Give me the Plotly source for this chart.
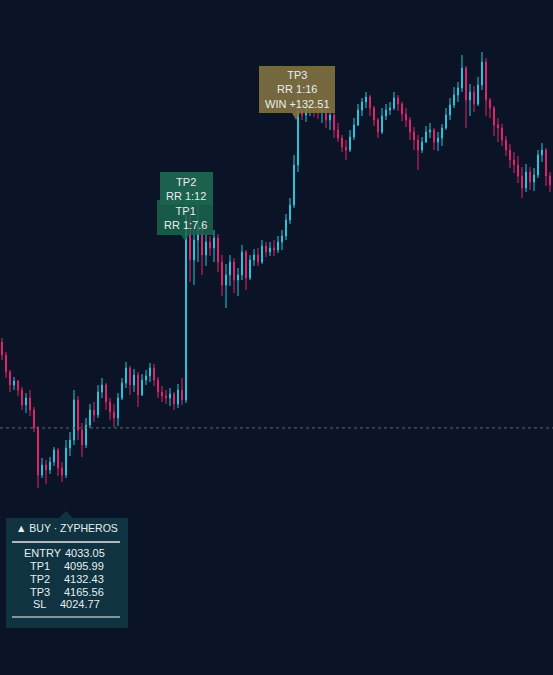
import plotly.graph_objects as go

# ---------------- data ----------------
opens = [4076, 4069.5, 4061, 4054.5, 4056.5, 4052, 4044.5, 4048, 4042, 4033,
         4009.5, 4014.5, 4012, 4016, 4022, 4013, 4009.5, 4023, 4027, 4047,
         4032, 4024.5, 4034.5, 4042, 4039.5, 4051, 4054.5, 4046, 4041, 4038,
         4048, 4055.5, 4063, 4054.5, 4059.5, 4049.5, 4057, 4059, 4063, 4057,
         4051, 4049, 4048, 4050, 4045, 4052, 4047, 4139.5, 4117, 4127,
         4134.5, 4119.5, 4126, 4123, 4128, 4116, 4104.5, 4109.5, 4116, 4107,
         4109.5, 4121, 4108, 4117, 4119.5, 4116, 4124, 4121, 4123, 4122,
         4126, 4129, 4137, 4144.5, 4164.5, 4192, 4189.5, 4193, 4195, 4192,
         4191, 4193, 4187, 4189.5, 4182, 4178, 4173.5, 4172, 4178.5, 4184.5,
         4192, 4196, 4198.5, 4193, 4187, 4181, 4189, 4192, 4193, 4198,
         4195, 4190, 4187, 4181, 4177, 4172, 4176, 4181, 4182, 4176,
         4178, 4183, 4189.5, 4194.5, 4199.5, 4203, 4213, 4197, 4201, 4195,
         4204.5, 4216, 4197, 4193, 4184.5, 4183, 4177, 4172, 4167, 4164.5,
         4159, 4153, 4161, 4156, 4159.5, 4169.5, 4172, 4159]
highs = [4078, 4071, 4062, 4058.5, 4057, 4053.5, 4050.5, 4052, 4043.5, 4034,
         4018, 4017, 4018.5, 4023.5, 4023, 4016, 4027, 4031, 4052, 4049,
         4035.5, 4038, 4045, 4046, 4054.5, 4058, 4055.5, 4048, 4045, 4050.5,
         4058, 4066, 4064, 4062.5, 4061, 4060, 4062, 4065.5, 4065, 4058.5,
         4054, 4052, 4053, 4051, 4055, 4058, 4148, 4144.5, 4133, 4146,
         4136, 4130.5, 4129, 4132, 4130, 4119.5, 4115, 4119.5, 4118, 4113,
         4124.5, 4122, 4119.5, 4122.5, 4123, 4127, 4126, 4126, 4127, 4129,
         4132, 4140, 4148, 4169.5, 4206, 4195.5, 4196, 4198, 4197, 4195,
         4195.5, 4194, 4192, 4190.5, 4185.5, 4179.5, 4177, 4182, 4188, 4195,
         4198, 4201, 4199.5, 4194, 4188, 4193, 4195, 4196, 4201, 4199.5,
         4196, 4193, 4188.5, 4183.5, 4179.5, 4178.5, 4184, 4185.5, 4183, 4181,
         4185, 4193, 4198, 4203.5, 4206, 4219.5, 4214, 4205, 4204, 4208.5,
         4221, 4218, 4198, 4194, 4188, 4185, 4179, 4175, 4171, 4169,
         4163.5, 4165, 4163.5, 4163, 4172, 4175.5, 4173, 4161]
lows = [4067, 4058, 4051, 4052, 4049, 4042, 4040.5, 4039, 4031, 4003,
        4008, 4005, 4010, 4014, 4009, 4006, 4008, 4019, 4024.5, 4027,
        4018.5, 4023, 4033, 4036, 4038, 4048, 4042, 4037, 4033.5, 4034,
        4047, 4053, 4049.5, 4051, 4043.5, 4049, 4054.5, 4056, 4054, 4048,
        4046, 4045, 4044, 4042, 4043, 4044.5, 4045.5, 4106, 4104.5, 4116,
        4109.5, 4114, 4119, 4116, 4111, 4099, 4093, 4104, 4100.5, 4099,
        4107, 4102, 4107, 4114, 4114, 4115, 4118.5, 4119, 4119, 4120.5,
        4122, 4127, 4135, 4143, 4161, 4187, 4186, 4189, 4188.5, 4187.5,
        4185.5, 4183, 4182, 4178, 4176, 4171, 4167, 4171, 4177, 4184,
        4189, 4193, 4189, 4184, 4178, 4180, 4187, 4189.5, 4192, 4191.5,
        4186.5, 4183.5, 4177, 4172, 4162, 4170.5, 4175.5, 4178, 4172, 4171.5,
        4174, 4182, 4187, 4193, 4196, 4201, 4183, 4189, 4191, 4194,
        4202, 4189, 4188, 4179, 4176, 4174, 4169, 4163, 4160.5, 4155.5,
        4148, 4151, 4152, 4151.5, 4158, 4166, 4154, 4151]
closes = [4069.5, 4061, 4054.5, 4056.5, 4052, 4044.5, 4048, 4042, 4033, 4009.5,
          4014.5, 4012, 4016, 4022, 4013, 4009.5, 4023, 4027, 4047, 4032,
          4024.5, 4034.5, 4042, 4039.5, 4051, 4054.5, 4046, 4041, 4038, 4048,
          4055.5, 4063, 4054.5, 4059.5, 4049.5, 4057, 4059, 4063, 4057, 4051,
          4049, 4048, 4050, 4045, 4052, 4047, 4139.5, 4117, 4127, 4134.5,
          4119.5, 4126, 4123, 4128, 4116, 4104.5, 4109.5, 4116, 4107, 4109.5,
          4121, 4108, 4117, 4119.5, 4116, 4124, 4121, 4123, 4122, 4126,
          4129, 4137, 4144.5, 4164.5, 4192, 4189.5, 4193, 4195, 4192, 4191,
          4193, 4187, 4189.5, 4182, 4178, 4173.5, 4172, 4178.5, 4184.5, 4192,
          4196, 4198.5, 4193, 4187, 4181, 4189, 4192, 4193, 4198, 4195,
          4190, 4187, 4181, 4177, 4172, 4176, 4181, 4182, 4176, 4178,
          4183, 4189.5, 4194.5, 4199.5, 4203, 4213, 4197, 4201, 4195, 4204.5,
          4216, 4197, 4193, 4184.5, 4183, 4177, 4172, 4167, 4164.5, 4159,
          4153, 4161, 4156, 4159.5, 4169.5, 4172, 4159, 4154.5]

entry_price = 4033.05
level_names = ["ENTRY", "TP1", "TP2", "TP3", "SL"]
level_values = ["4033.05", "4095.99", "4132.43", "4165.56", "4024.77"]
tp_labels = ["TP1<br>RR 1:7.6", "TP2<br>RR 1:12", "TP3<br>RR 1:16<br>WIN +132.51"]
header = "▲ BUY · ZYPHEROS"

x = list(range(len(closes)))

BG = "#0b1427"
UP = "#26c6da"
DOWN = "#e0246c"
FONT = "Liberation Sans"
TXT = "#e8eef0"

fig = go.Figure()
fig.add_trace(go.Candlestick(
    x=x, open=opens, high=highs, low=lows, close=closes,
    increasing=dict(line=dict(color=UP, width=1), fillcolor=UP),
    decreasing=dict(line=dict(color=DOWN, width=1), fillcolor=DOWN),
    whiskerwidth=0, hoverinfo="skip",
))

W, H = 553, 675


def dx(px):
    return (px - 2) / 4.0


def dy(py):
    return 4247 - py / 2.0


def px_(p):
    return p / W


def py_(p):
    return 1 - p / H


shapes = []
shapes.append(dict(type="line", xref="paper", x0=0, x1=1, yref="y",
                   y0=entry_price, y1=entry_price,
                   line=dict(color="#5d6b6a", width=1, dash="dot")))


def tp_box(x0, x1, y0, y1, tail_x, tail_y, color):
    shapes.append(dict(type="rect", xref="x", yref="y",
                       x0=dx(x0), x1=dx(x1), y0=dy(y0), y1=dy(y1),
                       fillcolor=color, line=dict(width=0), layer="above"))
    path = "M {a},{b} L {c},{b} L {d},{e} Z".format(
        a=dx(tail_x - 4), c=dx(tail_x + 4), b=dy(y1), d=dx(tail_x), e=dy(tail_y))
    shapes.append(dict(type="path", xref="x", yref="y", path=path,
                       fillcolor=color, line=dict(width=0), layer="above"))


tp_box(160, 213, 172, 205, 186, 205, "rgba(30,110,85,0.85)")
tp_box(157, 213, 200, 235, 185, 241, "rgba(27,100,78,0.85)")
tp_box(259, 335, 66, 113, 296, 120, "rgba(128,112,64,0.92)")

shapes.append(dict(type="rect", xref="paper", yref="paper",
                   x0=px_(6), x1=px_(128), y0=py_(628), y1=py_(518),
                   fillcolor="#0f3340", line=dict(width=0)))
shapes.append(dict(type="path", xref="paper", yref="paper",
                   path="M {},{} L {},{} L {},{} Z".format(
                       px_(59), py_(518), px_(73), py_(518), px_(66), py_(511)),
                   fillcolor="#0f3340", line=dict(width=0)))
shapes.append(dict(type="line", xref="paper", yref="paper",
                   x0=px_(12), x1=px_(120), y0=py_(542), y1=py_(542),
                   line=dict(color="#e3eaec", width=1.5)))
shapes.append(dict(type="line", xref="paper", yref="paper",
                   x0=px_(12), x1=px_(120), y0=py_(617), y1=py_(617),
                   line=dict(color="#7d979c", width=2)))

annotations = []
fnt = dict(family=FONT, size=11, color=TXT)
annotations.append(dict(x=dx(186), y=dy(188.5), xref="x", yref="y", text=tp_labels[1],
                        showarrow=False, font=fnt, xanchor="center", yanchor="middle"))
annotations.append(dict(x=dx(185), y=dy(217.5), xref="x", yref="y", text=tp_labels[0],
                        showarrow=False, font=fnt, xanchor="center", yanchor="middle"))
annotations.append(dict(x=dx(297), y=dy(89), xref="x", yref="y", text=tp_labels[2],
                        showarrow=False, font=fnt, xanchor="center", yanchor="middle"))

annotations.append(dict(x=px_(67), y=py_(528), xref="paper", yref="paper", text=header,
                        showarrow=False, font=dict(family=FONT, size=10.5, color=TXT),
                        xanchor="center", yanchor="middle"))
row_y = [553, 566, 579, 591.5, 604]
label_x = [43, 40, 40, 40, 39]
value_x = [85, 84, 84, 84, 80]
for lab, val, ry, lx, vx in zip(level_names, level_values, row_y, label_x, value_x):
    annotations.append(dict(x=px_(lx), y=py_(ry), xref="paper", yref="paper",
                            text=lab, showarrow=False, font=fnt,
                            xanchor="center", yanchor="middle"))
    annotations.append(dict(x=px_(vx), y=py_(ry), xref="paper", yref="paper",
                            text=val, showarrow=False, font=fnt,
                            xanchor="center", yanchor="middle"))

fig.update_layout(
    width=W, height=H,
    margin=dict(l=0, r=0, t=0, b=0),
    paper_bgcolor=BG, plot_bgcolor=BG,
    showlegend=False,
    boxgap=0.65,
    hovermode=False,
    shapes=shapes, annotations=annotations,
    xaxis=dict(visible=False, range=[dx(0), dx(W)], rangeslider=dict(visible=False),
               showgrid=False, zeroline=False),
    yaxis=dict(visible=False, range=[dy(H), dy(0)], showgrid=False, zeroline=False),
)

fig.write_html(
    "out.html",
    config={"displayModeBar": False},
    post_script="document.body.style.margin='0';document.body.style.background='#0b1427';",
)
